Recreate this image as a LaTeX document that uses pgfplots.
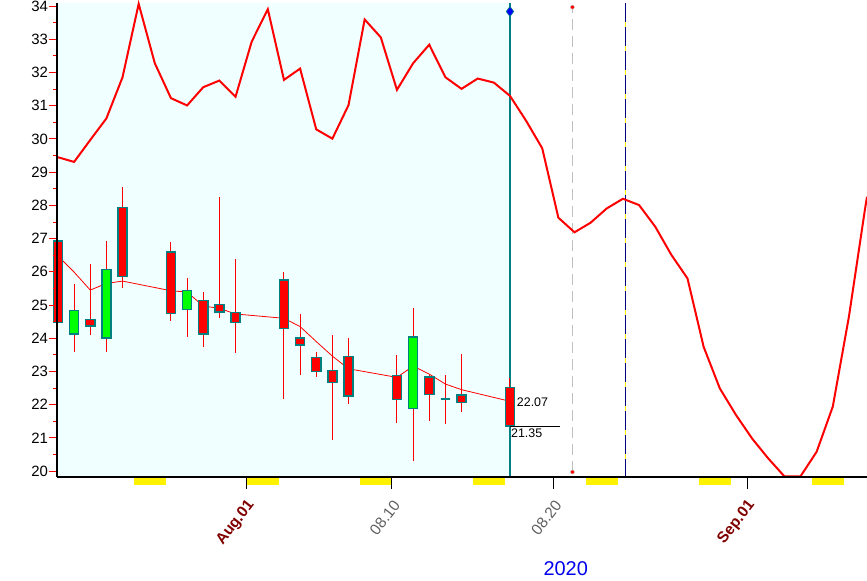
\documentclass[border=0pt]{standalone}
\usepackage{pgfplots}
\pgfplotsset{compat=1.18}
\usepackage{fontspec}
\setmainfont{Liberation Sans}

\definecolor{bgcyan}{HTML}{F0FFFF}
\definecolor{upgreen}{HTML}{00FF00}
\definecolor{edgeteal}{HTML}{008080}
\definecolor{darkred}{HTML}{800000}
\definecolor{labgray}{HTML}{606060}
\definecolor{navyline}{HTML}{000080}
\definecolor{dashgray}{HTML}{C0C0C0}
\definecolor{yearblue}{HTML}{0000EE}

% x = day counted from Aug 1 (Aug 1 = 0); day ticks sit 0.31 left of the points
% candle: x, high, body top, body bottom, low, fill
\newcommand{\candle}[6]{%
  \addplot[red, line width=1bp] coordinates {(#1,#5) (#1,#2)};
  \pgfmathsetmacro\cxl{#1-0.28}%
  \pgfmathsetmacro\cxr{#1+0.28}%
  \edef\doplot{\noexpand\addplot[draw=edgeteal, fill=#6, line width=1.5bp]
    coordinates {(\cxl,#4) (\cxr,#4) (\cxr,#3) (\cxl,#3)} -- cycle;}%
  \doplot
}

% upper red line, one point per calendar day
\pgfplotstableread{
x y
-12 29.45
-11 29.31
-10 29.97
-9 30.62
-8 31.86
-7 34.07
-6 32.28
-5 31.23
-4 31.01
-3 31.56
-2 31.76
-1 31.27
0 32.93
1 33.91
2 31.78
3 32.12
4 30.29
5 30.01
6 31.02
7 33.60
8 33.06
9 31.48
10 32.28
11 32.84
12 31.86
13 31.51
14 31.82
15 31.70
16 31.30
17 30.55
18 29.72
19 27.63
20 27.19
21 27.48
22 27.91
23 28.20
24 28.01
25 27.36
26 26.51
27 25.80
28 23.74
29 22.49
30 21.69
31 20.98
32 20.38
33 19.84
34 19.84
35 20.58
36 21.94
37 24.65
38 27.90
38.12 28.26
}\upper

% moving average at the trading days
\pgfplotstableread{
x y
-12 26.48
-11 25.99
-10 25.45
-9 25.65
-8 25.72
-5 25.43
-4 25.39
-3 24.97
-2 24.90
-1 24.73
2 24.60
3 24.35
4 23.90
5 23.46
6 23.08
9 22.82
10 23.16
11 22.92
12 22.62
13 22.45
16 22.10
}\mavg

\begin{document}
\begin{tikzpicture}
\useasboundingbox (0,0) rectangle (867bp,581bp);
\begin{axis}[
  at={(57bp,104bp)}, anchor=south west,
  scale only axis, width=810bp, height=474bp,
  xmin=-12.06, xmax=38.12, ymin=19.82, ymax=34.096,
  axis x line=bottom, axis y line=left,
  axis line style={-, black, line width=1.3bp},
  axis on top, clip=false,
  tick align=outside,
  major tick length=8bp, minor tick length=4bp,
  ytick={20,...,34}, minor y tick num=1,
  ytick style={red, line width=1bp},
  xtick=\empty,
  minor xtick={-11.31,-10.31,...,37.69},
  xtick style={black, line width=1bp},
  extra x ticks={-0.31,8.69,18.69,30.69},
  extra x tick labels={\textbf{\textcolor{darkred}{Aug.01}},
    \textcolor{labgray}{08.10}, \textcolor{labgray}{08.20},
    \textbf{\textcolor{darkred}{Sep.01}}},
  extra x tick style={major tick length=12bp, tick style={red, line width=1bp},
    tick label style={font=\fontsize{15.5}{16}\selectfont,
      xshift=7bp, yshift=-11bp, rotate=52, anchor=east}},
  yticklabel style={font=\fontsize{15}{16}\selectfont, xshift=2.5bp},
  /pgf/number format/assume math mode=true,
]
% history background
\addplot[fill=bgcyan, draw=none] coordinates {(-12.06,19.82) (16,19.82) (16,34.096) (-12.06,34.096)} -- cycle;

% weekend marks under the axis
\addplot[fill=yellow, draw=none] coordinates {(-7.31,19.82) (-5.31,19.82) (-5.31,19.58) (-7.31,19.58)} -- cycle;
\addplot[fill=yellow, draw=none] coordinates {(-0.31,19.82) (1.69,19.82) (1.69,19.58) (-0.31,19.58)} -- cycle;
\addplot[fill=yellow, draw=none] coordinates {(6.69,19.82) (8.69,19.82) (8.69,19.58) (6.69,19.58)} -- cycle;
\addplot[fill=yellow, draw=none] coordinates {(13.69,19.82) (15.69,19.82) (15.69,19.58) (13.69,19.58)} -- cycle;
\addplot[fill=yellow, draw=none] coordinates {(20.69,19.82) (22.69,19.82) (22.69,19.58) (20.69,19.58)} -- cycle;
\addplot[fill=yellow, draw=none] coordinates {(27.69,19.82) (29.69,19.82) (29.69,19.58) (27.69,19.58)} -- cycle;
\addplot[fill=yellow, draw=none] coordinates {(34.69,19.82) (36.69,19.82) (36.69,19.58) (34.69,19.58)} -- cycle;

% vertical markers
\addplot[edgeteal, line width=1.3bp] coordinates {(16,19.82) (16,34.096)};
\addplot[dashgray, line width=1bp, dash pattern=on 11bp off 6bp] coordinates {(19.87,19.97) (19.87,33.97)};
\addplot[only marks, mark=*, mark size=2bp, red, mark options={draw=dashgray, line width=0.4bp}] coordinates {(19.87,19.97) (19.87,33.97)};
\addplot[yellow, line width=1.2bp] coordinates {(23.15,19.82) (23.15,34.096)};
\addplot[navyline, line width=1.2bp, dash pattern=on 19bp off 5bp] coordinates {(23.15,34.096) (23.15,19.82)};

% lines
\addplot[red, line width=2bp] table[x=x, y=y] {\upper};
\addplot[red, line width=0.8bp] table[x=x, y=y] {\mavg};

% candles
\candle{-12}{27.06}{26.93}{24.48}{24.35}{red}
\candle{-11}{25.63}{24.84}{24.12}{23.59}{upgreen}
\candle{-10}{26.23}{24.57}{24.37}{24.11}{red}
\candle{-9}{26.93}{26.07}{24.00}{23.59}{upgreen}
\candle{-8}{28.56}{27.94}{25.86}{25.52}{red}
\candle{-5}{26.90}{26.59}{24.75}{24.53}{red}
\candle{-4}{25.82}{25.44}{24.87}{24.05}{upgreen}
\candle{-3}{25.38}{25.14}{24.12}{23.73}{red}
\candle{-2}{28.26}{25.02}{24.79}{24.62}{red}
\candle{-1}{26.39}{24.78}{24.48}{23.55}{red}
\candle{2}{25.99}{25.75}{24.30}{22.16}{red}
\candle{3}{24.73}{24.00}{23.79}{22.90}{red}
\candle{4}{23.58}{23.42}{23.00}{22.84}{red}
\candle{5}{24.09}{23.03}{22.67}{20.93}{red}
\candle{6}{24.01}{23.45}{22.26}{22.01}{red}
\candle{9}{23.49}{22.88}{22.16}{21.46}{red}
\candle{10}{24.91}{24.03}{21.89}{20.29}{upgreen}
\candle{11}{22.88}{22.83}{22.31}{21.52}{red}
\candle{12}{22.88}{22.17}{22.17}{21.42}{edgeteal}
\candle{13}{23.52}{22.29}{22.07}{21.79}{red}
\candle{16}{22.81}{22.52}{21.35}{21.35}{red}

% last close line and values
\addplot[black, line width=1bp] coordinates {(16,21.35) (19.1,21.35)};
\addplot[only marks, mark=diamond*, mark size=5bp, mark options={fill=blue, draw=edgeteal, line width=0.6bp}] coordinates {(16,33.84)};
\node[anchor=west, inner sep=0pt, font=\fontsize{12.5}{13}\selectfont] at (axis cs:16.42,22.06) {22.07};
\node[anchor=west, inner sep=0pt, font=\fontsize{12.5}{13}\selectfont] at (axis cs:16.06,21.15) {21.35};
\node[font=\fontsize{20}{20}\selectfont, text=yearblue] at (axis description cs:0.628,-0.194) {2020};
\end{axis}
\end{tikzpicture}
\end{document}
